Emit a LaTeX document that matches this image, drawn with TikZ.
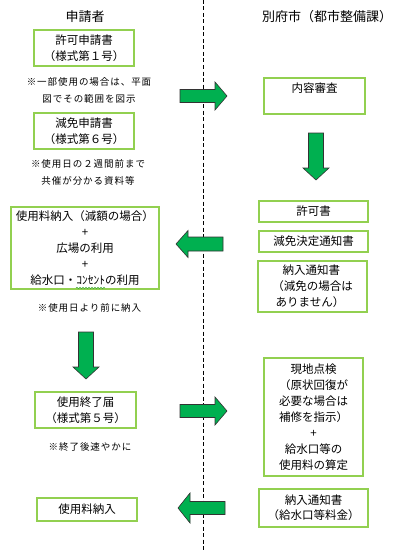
\documentclass[tikz,border=0pt]{standalone}
\usepackage{fontspec}
\setmainfont{Noto Sans CJK JP}
\newfontfamily\notefont{Noto Sans CJK JP}[LetterSpace=10]
\usetikzlibrary{decorations.pathmorphing}

\definecolor{boxgreen}{RGB}{146,208,80}
\definecolor{arrowgreen}{RGB}{0,176,80}
\definecolor{spellgreen}{RGB}{70,170,60}

\tikzset{
  stepbox/.style={draw=boxgreen, line width=2pt, align=center, inner sep=0pt,
    font=\fontsize{11.5}{16}\selectfont},
  note/.style={align=center, inner sep=0pt, font=\notefont\fontsize{9.5}{17}\selectfont},
  heading/.style={inner sep=0pt, font=\fontsize{13}{16}\selectfont},
  arrowbody/.style={fill=arrowgreen, draw=black!80, line width=0.6pt, line join=miter},
  pics/blockarrow/.style 2 args={code={
    \draw[arrowbody] (0,-#1) -- (35,-#1) -- (35,-#2) -- (47,0) -- (35,#2) -- (35,#1) -- (0,#1) -- cycle;
  }}
}

\begin{document}
\begin{tikzpicture}[x=1pt, y=-1pt]
  \useasboundingbox (0,0) rectangle (401,551);

  % column headings and the divider
  \node[heading] (applicant) at (85,17) {申請者};
  \node[heading] (city) at (327,17) {別府市（都市整備課）};
  \coordinate (divtop) at (203,0);
  \coordinate (divbot) at (203,551);
  \draw[line width=1pt, dash pattern=on 4pt off 2.5pt] (divtop) -- (divbot);

  % applicant side
  \node[stepbox, minimum width=100, minimum height=36] (apply1) at (84,48) {許可申請書\\（様式第１号）};
  \node[note] (note1) at (89,90.5) {※一部使用の場合は、平面\\図でその範囲を図示};
  \node[stepbox, minimum width=100, minimum height=36] (apply6) at (84,131) {減免申請書\\（様式第６号）};
  \node[note] (note2) at (88,172.5) {※使用日の２週間前まで\\共催が分かる資料等};
  \node[stepbox, minimum width=148, minimum height=82] (feebox) at (85,248)
    {使用料納入（減額の場合）\\+\\広場の利用\\+\\給水口・ｺﾝｾﾝﾄの利用};
  \coordinate (wavyA) at (76,288);
  \coordinate (wavyB) at (105,288);
  \draw[spellgreen, line width=0.5pt, decorate, decoration={snake, segment length=3pt, amplitude=0.8pt}] (wavyA) -- (wavyB);
  \node[note] (note3) at (89.5,308) {※使用日より前に納入};
  \node[stepbox, minimum width=101, minimum height=36] (endnotice) at (85.5,410) {使用終了届\\（様式第５号）};
  \node[note] (note4) at (90,447) {※終了後速やかに};
  \node[stepbox, minimum width=100, minimum height=23] (finalpay) at (87,509.5) {使用料納入};

  % city side
  \node[stepbox, minimum width=101, minimum height=36] (review) at (314.5,96) {内容審査\\\mbox{}};
  \node[stepbox, minimum width=109, minimum height=21] (permit) at (313.5,211.5) {許可書};
  \node[stepbox, minimum width=109, minimum height=21] (reduction) at (313.5,241.5) {減免決定通知書};
  \node[stepbox, minimum width=109, minimum height=51, align=left] (bill) at (312.5,286.5)
    {\hspace{0.9em}納入通知書\\（減免の場合は\\\hspace{0.3em}ありません）};
  \node[stepbox, minimum width=99, minimum height=118] (inspect) at (313.5,417)
    {現地点検\\（原状回復が\\必要な場合は\\補修を指示）\\+\\給水口等の\\使用料の算定};
  \node[stepbox, minimum width=109, minimum height=38, font=\fontsize{11.5}{15}\selectfont] (billwater) at (313.5,508)
    {納入通知書\\（給水口等料金）};

  % block arrows
  \coordinate (go1) at (180,96);
  \coordinate (go2) at (316,133);
  \coordinate (go3) at (223,244);
  \coordinate (go4) at (86,332);
  \coordinate (go5) at (180,411);
  \coordinate (go6) at (225,508);
  \pic at (go1) {blockarrow={6.5}{14}};
  \pic[rotate=-90] at (go2) {blockarrow={7.5}{13}};
  \pic[rotate=180] at (go3) {blockarrow={7}{13.5}};
  \pic[rotate=-90] at (go4) {blockarrow={7.5}{13}};
  \pic at (go5) {blockarrow={6.5}{14}};
  \pic[rotate=180] at (go6) {blockarrow={6.5}{15}};
\end{tikzpicture}
\end{document}
